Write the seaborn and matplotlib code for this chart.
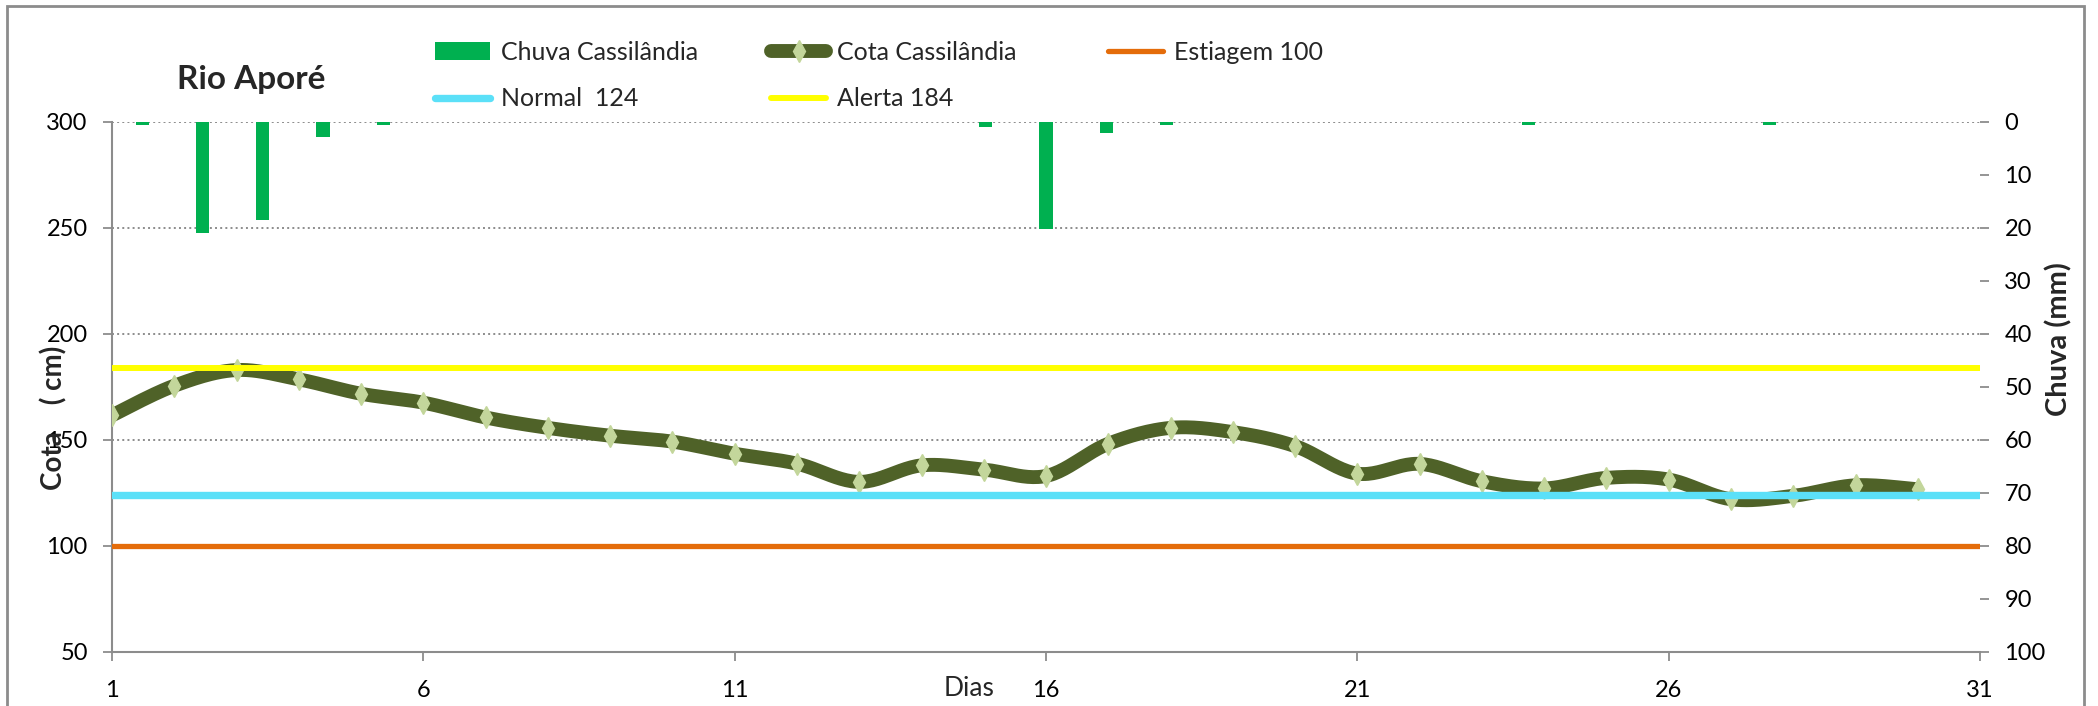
import numpy as np
import seaborn as sns
import matplotlib.pyplot as plt
from matplotlib.patches import Patch, Rectangle
from matplotlib.lines import Line2D

# data
dias = list(range(1, 31))
cota = [161.5, 175.5, 182.9, 178.5, 171.7, 167.5, 160.5, 155.6, 151.9, 149.1,
        143.4, 138.7, 130.1, 137.9, 135.9, 132.9, 148.1, 155.6, 153.6, 147.0,
        134.0, 138.6, 130.4, 127.0, 132.0, 131.2, 121.9, 123.5, 128.5, 126.6]
chuva_dias = list(range(1, 32))
chuva = [0.5, 21.0, 18.6, 2.9, 0.5, 0, 0, 0, 0, 0,
         0, 0, 0, 0, 1.0, 20.2, 2.1, 0.5, 0, 0,
         0, 0, 0, 0.5, 0, 0, 0, 0.5, 0, 0, 0]
estiagem = 100
normal = 124
alerta = 184
x_ticks = [1, 6, 11, 16, 21, 26, 31]
cota_ticks = [50, 100, 150, 200, 250, 300]
chuva_ticks = list(range(0, 101, 10))

verde = '#00B050'
oliva = '#4F6228'
marcador = '#C3D69B'
laranja = '#E46C0A'
ciano = '#5BE0F8'
amarelo = '#FFFF00'
cinza = '#8C8C8C'


def suavizar(x, y, n=24):
    # Excel style smoothed line (Catmull-Rom through the points)
    pts = np.column_stack([x, y]).astype(float)
    P = np.vstack([pts[0], pts, pts[-1]])
    out = []
    t = np.linspace(0, 1, n, endpoint=False)[:, None]
    for i in range(1, len(P) - 2):
        p0, p1, p2, p3 = P[i - 1], P[i], P[i + 1], P[i + 2]
        c1 = p1 + (p2 - p0) / 6
        c2 = p2 - (p3 - p1) / 6
        out.append((1 - t) ** 3 * p1 + 3 * (1 - t) ** 2 * t * c1
                   + 3 * (1 - t) * t ** 2 * c2 + t ** 3 * p2)
    out.append(pts[-1:])
    return np.vstack(out)


sns.set_theme(style='white')
plt.rcParams['font.family'] = ['Lato', 'DejaVu Sans']
fs = 17

fig = plt.figure(figsize=(20.98, 7.06), dpi=100)
rect = [0.0534, 0.0771, 0.8904, 0.7501]
ax = fig.add_axes(rect)

# cota line (smoothed) with diamond markers
curva = suavizar(dias, cota)
ax.plot(curva[:, 0], curva[:, 1], color=oliva, lw=10, solid_capstyle='butt', zorder=3)
ax.plot(dias, cota, linestyle='none', marker='d', markersize=11,
        markerfacecolor=marcador, markeredgecolor=marcador, zorder=4)

# reference levels
ax.axhline(estiagem, color=laranja, lw=3.8, zorder=5)
ax.axhline(normal, color=ciano, lw=5.3, zorder=5)
ax.axhline(alerta, color=amarelo, lw=4.3, zorder=5)

ax.set_xlim(1, 31)
ax.set_ylim(50, 300)
ax.set_xticks(x_ticks)
ax.set_yticks(cota_ticks)
ax.yaxis.grid(True, linestyle=':', color=cinza, lw=1.4)
ax.xaxis.grid(False)
for s in ['top', 'right']:
    ax.spines[s].set_visible(False)
for s in ['left', 'bottom']:
    ax.spines[s].set_color(cinza)
    ax.spines[s].set_linewidth(1.5)
ax.tick_params(axis='y', which='both', left=True, direction='out', length=6.5,
               width=1.3, color=cinza, pad=11, labelsize=fs, labelcolor='black')
ax.tick_params(axis='x', which='both', bottom=True, direction='out', length=6.5,
               width=1.3, color=cinza, pad=14, labelsize=fs, labelcolor='black')
ax.set_xlabel('')
ax.set_ylabel('')

# rain bars on secondary axes (31 categories, between ticks)
ax2 = fig.add_axes(rect, frameon=False, label='chuva')
sns.barplot(x=chuva_dias, y=chuva, native_scale=True, color=verde, width=0.22,
            errorbar=None, saturation=1, linewidth=0, ax=ax2, zorder=6)
ax2.set_xlim(0.5, 31.5)
ax2.set_ylim(100, 0)
ax2.set_xticks([])
ax2.set_yticks(chuva_ticks)
ax2.yaxis.tick_right()
ax2.spines['right'].set_visible(True)
ax2.spines['right'].set_color(cinza)
ax2.spines['right'].set_linewidth(1.5)
for s in ['top', 'left', 'bottom']:
    ax2.spines[s].set_visible(False)
ax2.tick_params(axis='y', right=True, left=False, direction='out', length=6.5,
                width=1.3, color=cinza, pad=11, labelsize=fs, labelcolor='black')
ax2.set_xlabel('')
ax2.set_ylabel('')
ax2.grid(False)

# texts
fig.text(0.1196, 0.887, 'Rio Aporé', fontsize=24, fontweight='bold', ha='center', va='center')
fig.text(0.0257, 0.408, 'Cota    ( cm)', fontsize=20, fontweight='bold', rotation=90,
         ha='center', va='center')
fig.text(0.9814, 0.52, 'Chuva (mm)', fontsize=21, fontweight='bold', rotation=90,
         ha='center', va='center')
fig.text(0.4619, 0.025, 'Dias', fontsize=19, ha='center', va='center')

# legend, three columns placed like the reference
h_chuva = Patch(facecolor=verde, edgecolor='none')
h_cota = Line2D([], [], color=oliva, lw=10, marker='d', markersize=11,
                markerfacecolor=marcador, markeredgecolor=marcador)
h_est = Line2D([], [], color=laranja, lw=3.8)
h_norm = Line2D([], [], color=ciano, lw=5.3)
h_alerta = Line2D([], [], color=amarelo, lw=4.3)
colunas = [
    ([h_chuva, h_norm], ['Chuva Cassilândia', 'Normal  124'], 0.2073),
    ([h_cota, h_alerta], ['Cota Cassilândia', 'Alerta 184'], 0.3675),
    ([h_est], ['Estiagem 100'], 0.528),
]
for hs, labs, x0 in colunas:
    fig.legend(handles=hs, labels=labs, loc='upper left', bbox_to_anchor=(x0, 0.9426),
               frameon=False, fontsize=18, handlelength=2.2, handletextpad=0.45,
               labelspacing=0.95, borderpad=0, borderaxespad=0)

# chart area border
fig.patches.append(Rectangle((0.0035, -0.01), 0.990, 1.0015, transform=fig.transFigure,
                             fill=False, edgecolor=cinza, lw=2))

fig.savefig('out.png', dpi=100)
